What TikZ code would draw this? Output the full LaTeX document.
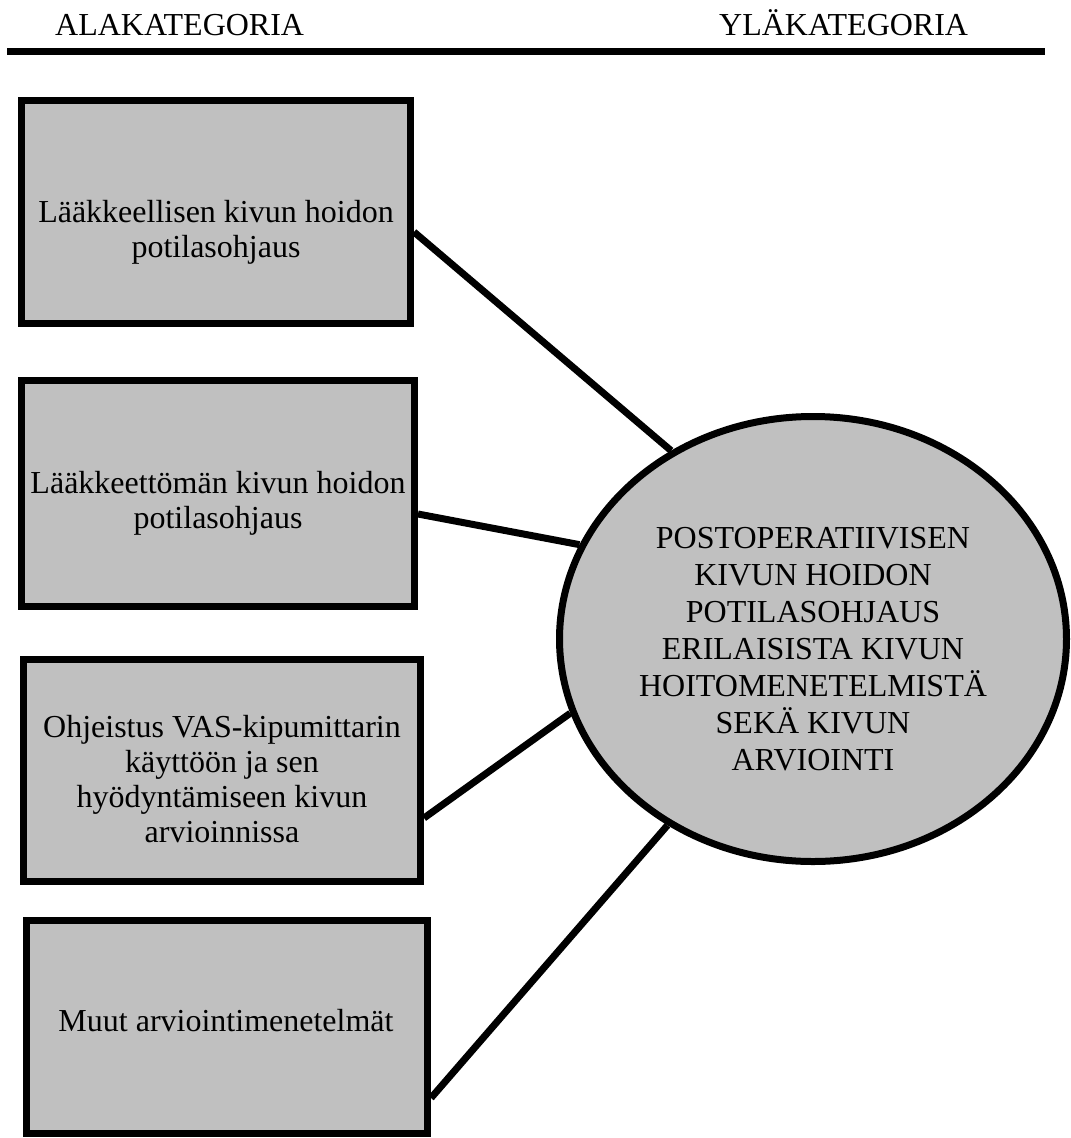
\documentclass[tikz,border=0pt]{standalone}
\usepackage{fontspec}
\setmainfont{Liberation Serif}
\usetikzlibrary{shapes.geometric,backgrounds}
\definecolor{boxgray}{RGB}{192,192,192}
\begin{document}
\begin{tikzpicture}[x=1pt,y=-1pt,
  catbox/.style={rectangle,draw=black,fill=boxgray,line width=7pt,inner sep=0pt},
  catmain/.style={ellipse,draw=black,fill=boxgray,line width=7pt,inner sep=0pt,
    minimum width=507pt,minimum height=445pt},
  boxtext/.style={anchor=north,inner sep=0pt,align=center,
    font=\fontsize{32}{35}\selectfont},
  maintext/.style={anchor=north,inner sep=0pt,align=center,
    font=\fontsize{32}{37}\selectfont},
  headtext/.style={anchor=base west,inner sep=0pt,font=\fontsize{32}{36}\selectfont},
  conn/.style={draw=black,line width=7pt}]
\useasboundingbox (0,0) rectangle (1071,1138);

% column headings and rule
\node[headtext] (hsub) at (55,35) {ALAKATEGORIA};
\node[headtext] (hmain) at (719,35) {YLÄKATEGORIA};
\draw[line width=7pt] (7,51.5) -- (1045,51.5);

% subcategory boxes
\node[catbox,minimum width=389pt,minimum height=223pt] (b1) at (216,212) {};
\node[catbox,minimum width=393pt,minimum height=226pt] (b2) at (218,493.5) {};
\node[catbox,minimum width=397pt,minimum height=222pt] (b3) at (222,770.5) {};
\node[catbox,minimum width=401pt,minimum height=213pt] (b4) at (227,1027) {};

\node[boxtext] (t1) at (216,200) {Lääkkeellisen kivun hoidon\\potilasohjaus};
\node[boxtext] (t2) at (218,471) {Lääkkeettömän kivun hoidon\\potilasohjaus};
\node[boxtext] (t3) at (222,715) {Ohjeistus VAS-kipumittarin\\käyttöön ja sen\\hyödyntämiseen kivun\\arvioinnissa};
\node[boxtext] (t4) at (226,1009) {Muut arviointimenetelmät};

% main category
\node[catmain] (c) at (813,639) {};
\node[maintext] (tc) at (813,527) {POSTOPERATIIVISEN\\KIVUN HOIDON\\POTILASOHJAUS\\ERILAISISTA KIVUN\\HOITOMENETELMISTÄ\\SEKÄ KIVUN\\ARVIOINTI};

% connectors
\begin{scope}[on background layer]
  \draw[conn] ([yshift=-20pt]b1.east) -- (c.127);
  \draw[conn] ([yshift=-20.5pt]b2.east) -- (c.158);
  \draw[conn] ([yshift=-47.5pt]b3.east) -- (c.197);
  \draw[conn] ([yshift=-71pt]b4.east) -- (c.232);
\end{scope}
\end{tikzpicture}
\end{document}
